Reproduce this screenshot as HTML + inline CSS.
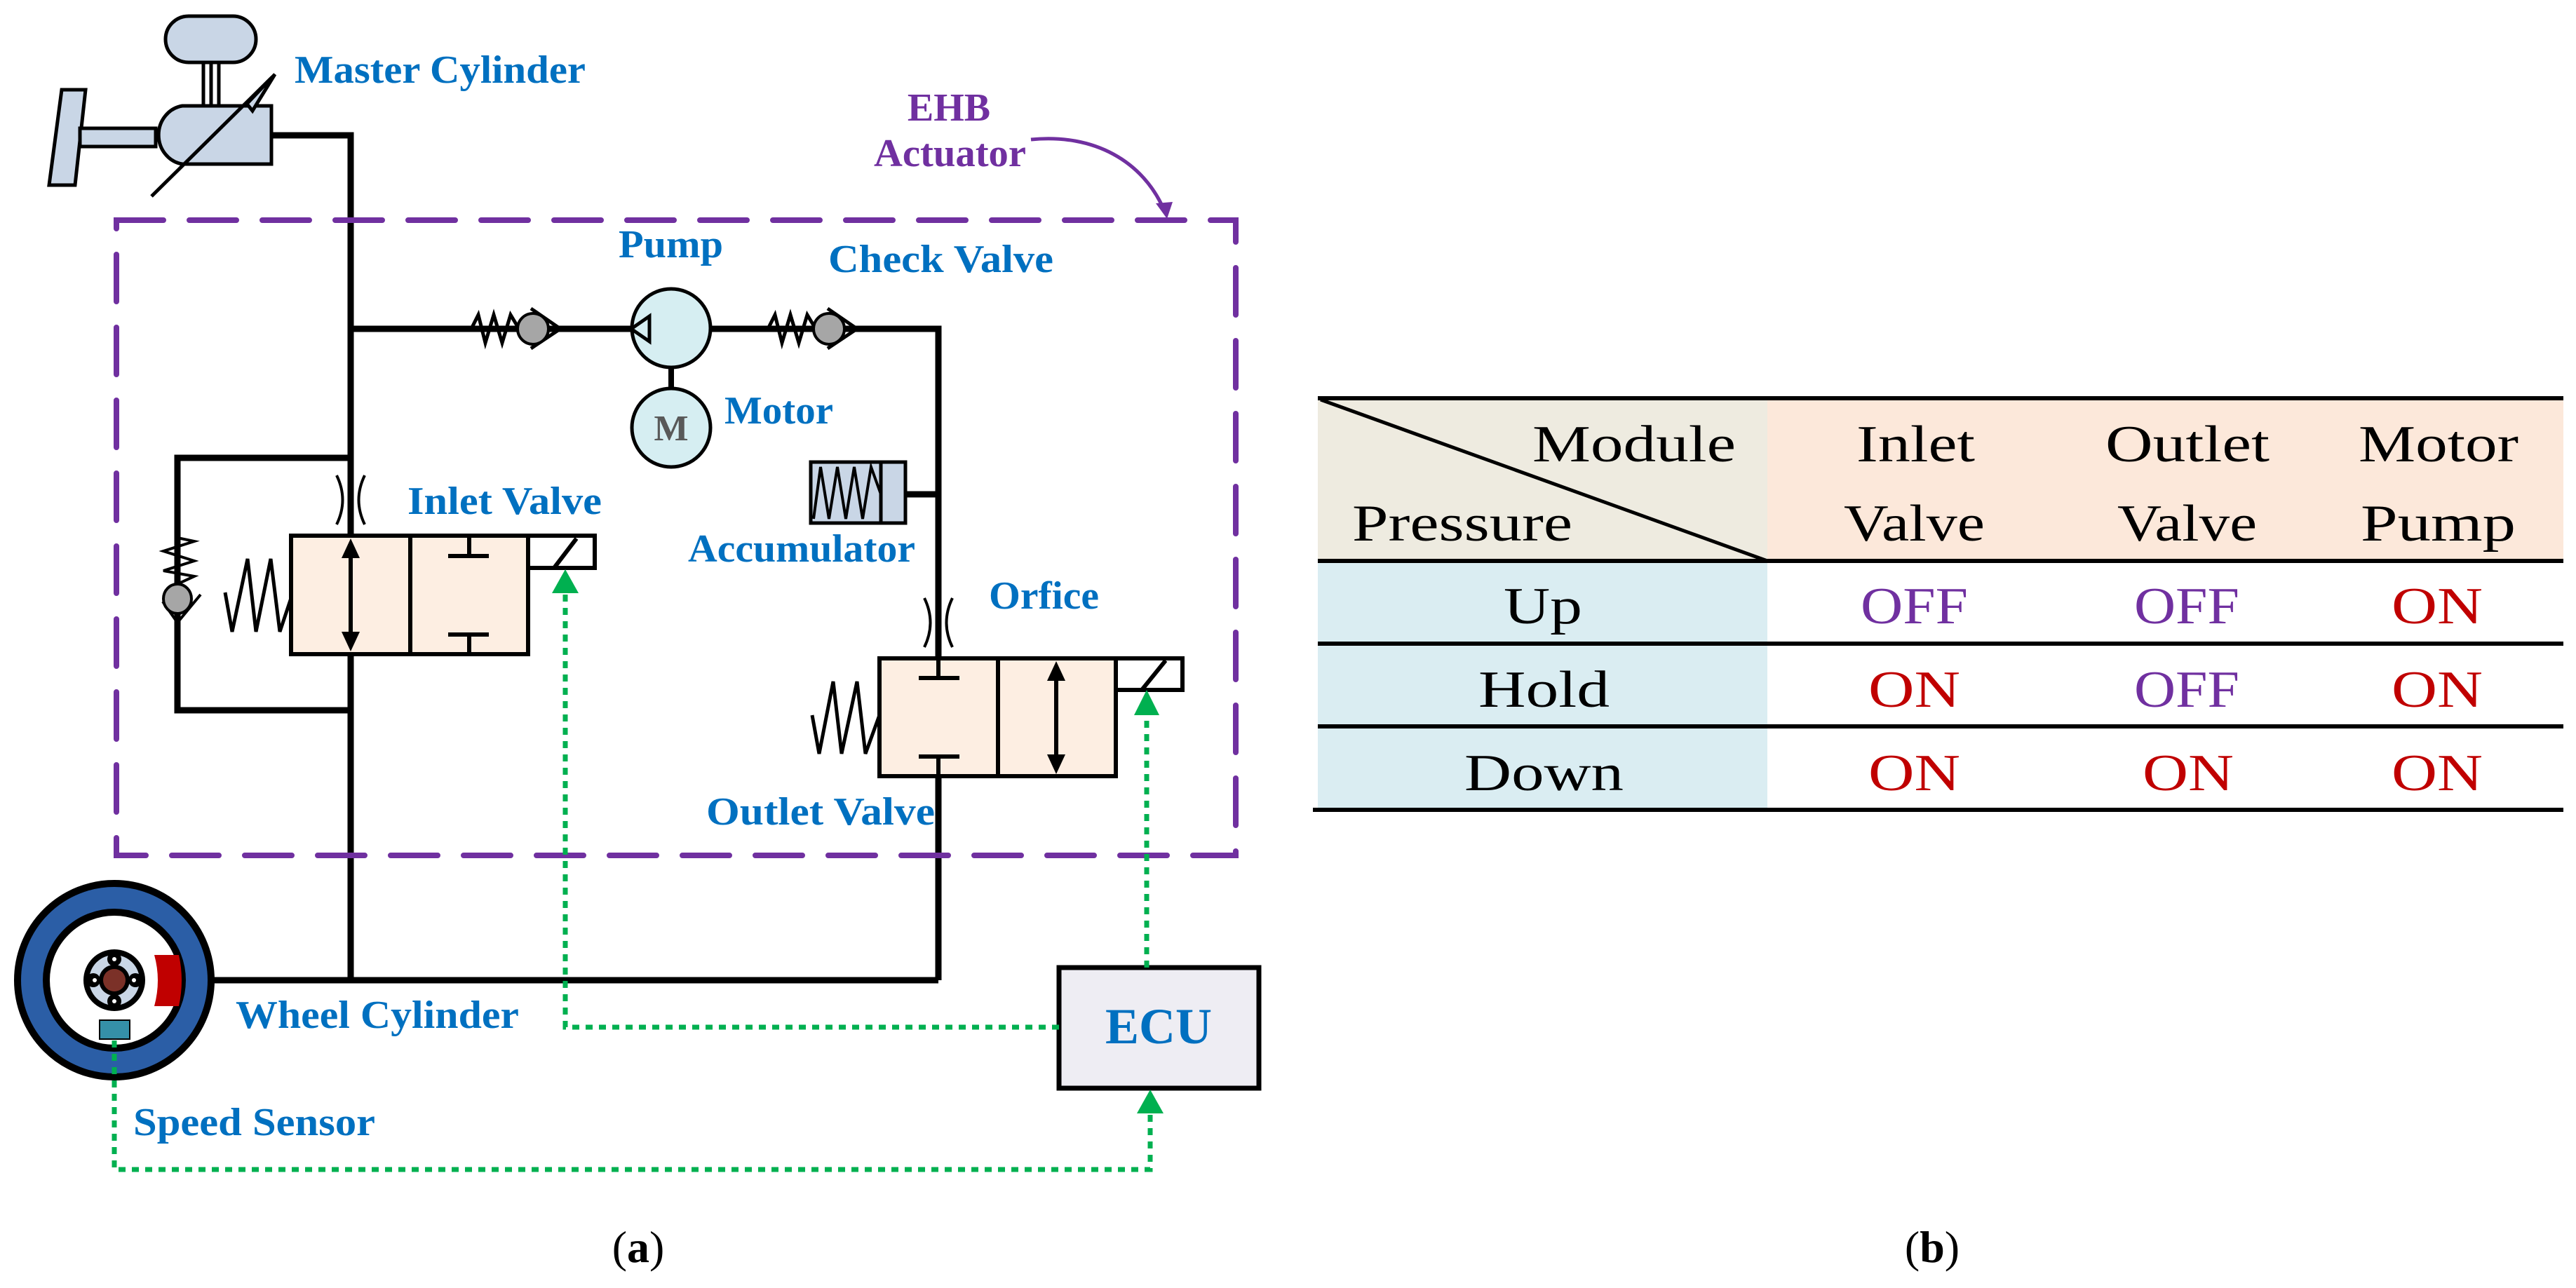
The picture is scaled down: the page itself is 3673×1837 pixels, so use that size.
<!DOCTYPE html>
<html><head><meta charset="utf-8"><style>html,body{margin:0;padding:0;background:#fff}svg{display:block}</style></head>
<body>
<svg width="3673" height="1837" viewBox="0 0 3673 1837" xmlns="http://www.w3.org/2000/svg">
<g fill="none" stroke="#000" stroke-width="9" stroke-linejoin="miter">
<polyline points="387,193 500,193 500,1398"/>
<polyline points="500,469 1338,469 1338,1398"/>
<line x1="258" y1="1398" x2="1338" y2="1398"/>
<polyline points="500,653 253,653 253,1013 500,1013"/>
<line x1="1291" y1="705" x2="1338" y2="705"/>
</g>
<rect x="166" y="314" width="1596" height="906" fill="none" stroke="#7030a0" stroke-width="8" stroke-dasharray="67,37" stroke-linecap="round"/>
<path d="M1470,199 C1560,190 1630,230 1660,300" fill="none" stroke="#7030a0" stroke-width="5"/>
<polygon points="1664,312 1648,290 1672,288" fill="#7030a0"/>

<g stroke="#000" stroke-width="5" fill="#c9d6e6">
<rect x="236" y="23" width="129" height="66" rx="33"/>
<line x1="290" y1="89" x2="290" y2="152"/><line x1="301" y1="89" x2="301" y2="152"/><line x1="312" y1="89" x2="312" y2="152"/>
<polygon points="88,128 122,128 107,264 70,264"/>
<rect x="114" y="183" width="108" height="26"/>
<path d="M260,151 H387 V234 H260 A40,42 0 0 1 260,151 Z"/>
<line x1="216" y1="280" x2="388" y2="110" fill="none"/>
<polygon points="392,106 360,158 352,148" fill="#c9d6e6"/>
</g>

<g stroke="#000" stroke-width="5" fill="none">
<polyline points="672,469 682,449 692,489 704,449 716,489 728,449 740,469"/>
<polyline points="757,440 799,469 757,497"/>
<polyline points="1095,469 1105,449 1115,489 1127,449 1139,489 1151,449 1163,469"/>
<polyline points="1180,440 1222,469 1180,497"/>
</g>
<circle cx="760" cy="469" r="22" fill="#a6a6a6" stroke="#000" stroke-width="4"/>
<circle cx="1182" cy="469" r="22" fill="#a6a6a6" stroke="#000" stroke-width="4"/>
<line x1="957" y1="524" x2="957" y2="556" stroke="#000" stroke-width="8"/>
<circle cx="957" cy="468" r="56" fill="#d6eef2" stroke="#000" stroke-width="5"/>
<polygon points="900,469 926,451 926,487" fill="#d6eef2" stroke="#000" stroke-width="5"/>
<circle cx="957" cy="610" r="56" fill="#d6eef2" stroke="#000" stroke-width="5"/>
<text x="957" y="628" text-anchor="middle" font-family="Liberation Serif, serif" font-weight="bold" font-size="52" fill="#595959">M</text>
<rect x="1156" y="659" width="135" height="87" fill="#c9d6e6" stroke="#000" stroke-width="5"/>
<line x1="1256" y1="659" x2="1256" y2="746" stroke="#000" stroke-width="5"/>
<polyline points="1160,740 1170,666 1182,740 1194,666 1206,740 1218,666 1230,740 1242,666 1256,705" fill="none" stroke="#000" stroke-width="4"/>

<g stroke="#000" stroke-width="6">
<rect x="415" y="764" width="338" height="169" fill="#fdeee2"/>
<line x1="585" y1="764" x2="585" y2="933"/>
<rect x="753" y="764" width="95" height="46" fill="#fff"/>
<line x1="790" y1="810" x2="822" y2="768"/>
<line x1="669" y1="764" x2="669" y2="793"/><line x1="639" y1="793" x2="697" y2="793"/>
<line x1="669" y1="933" x2="669" y2="905"/><line x1="639" y1="905" x2="697" y2="905"/>
<line x1="500" y1="790" x2="500" y2="908"/>
</g>
<polygon points="500,768 487,796 513,796" fill="#000"/>
<polygon points="500,929 487,901 513,901" fill="#000"/>
<path d="M480,678 Q497,713 480,748 M520,678 Q503,713 520,748" fill="none" stroke="#000" stroke-width="4"/>
<polyline points="321,845 331,901 353,797 365,901 386,797 399,901 415,853" fill="none" stroke="#000" stroke-width="5"/>
<polyline points="253,767 277,772 233,786 277,800 233,814 277,822 253,833" fill="none" stroke="#000" stroke-width="4"/>
<polyline points="232,858 253,888 286,848" fill="none" stroke="#000" stroke-width="4"/>
<ellipse cx="253" cy="854" rx="20" ry="21" fill="#a6a6a6" stroke="#000" stroke-width="4"/>

<g stroke="#000" stroke-width="6">
<rect x="1254" y="939" width="337" height="168" fill="#fdeee2"/>
<line x1="1423" y1="939" x2="1423" y2="1107"/>
<rect x="1591" y="939" width="95" height="45" fill="#fff"/>
<line x1="1628" y1="984" x2="1662" y2="942"/>
<line x1="1338" y1="939" x2="1338" y2="967"/><line x1="1310" y1="967" x2="1368" y2="967"/>
<line x1="1338" y1="1107" x2="1338" y2="1079"/><line x1="1310" y1="1079" x2="1368" y2="1079"/>
<line x1="1506" y1="965" x2="1506" y2="1082"/>
</g>
<polygon points="1506,943 1493,971 1519,971" fill="#000"/>
<polygon points="1506,1104 1493,1076 1519,1076" fill="#000"/>
<path d="M1318,853 Q1335,888 1318,923 M1358,853 Q1341,888 1358,923" fill="none" stroke="#000" stroke-width="4"/>
<polyline points="1158,1020 1168,1075 1188,972 1200,1075 1222,972 1234,1075 1254,1020" fill="none" stroke="#000" stroke-width="5"/>

<circle cx="163" cy="1398" r="138" fill="#2b5ea6" stroke="#000" stroke-width="10"/>
<circle cx="163" cy="1398" r="97" fill="#fff" stroke="#000" stroke-width="10"/>
<circle cx="163" cy="1398" r="44" fill="#000"/>
<circle cx="163" cy="1398" r="36" fill="#c9d6e6"/>
<circle cx="163" cy="1398" r="22" fill="#000"/>
<circle cx="163" cy="1398" r="16" fill="#7b3128"/>
<g fill="#000"><circle cx="163" cy="1368" r="10"/><circle cx="163" cy="1428" r="10"/><circle cx="133" cy="1398" r="10"/><circle cx="193" cy="1398" r="10"/></g>
<g fill="#fff"><circle cx="163" cy="1368" r="3"/><circle cx="163" cy="1428" r="3"/><circle cx="135" cy="1398" r="3"/><circle cx="191" cy="1398" r="3"/></g>
<path d="M220,1362 H255 Q263,1398 255,1435 H220 Q230,1398 220,1362 Z" fill="#c00000"/>
<rect x="142" y="1455" width="43" height="27" fill="#3590a8" stroke="#000" stroke-width="2"/>

<rect x="1510" y="1380" width="285" height="172" fill="#eeedf3" stroke="#000" stroke-width="7"/>
<text x="1652" y="1488" text-anchor="middle" font-family="Liberation Serif, serif" font-weight="bold" font-size="72" fill="#0070c0">ECU</text>

<g fill="none" stroke="#00b050" stroke-width="7" stroke-dasharray="10,9">
<polyline points="806,848 806,1465 1510,1465"/>
<line x1="1635" y1="1380" x2="1635" y2="1022"/>
<polyline points="163,1484 163,1668 1640,1668 1640,1590"/>
</g>
<polygon points="806,812 787,846 825,846" fill="#00b050"/>
<polygon points="1635,984 1617,1020 1653,1020" fill="#00b050"/>
<polygon points="1640,1554 1621,1588 1659,1588" fill="#00b050"/>

<g font-family="Liberation Serif, serif" font-weight="bold" font-size="56" fill="#0070c0">
<text x="420" y="118" textLength="415" lengthAdjust="spacingAndGlyphs">Master Cylinder</text>
<text x="882" y="367" textLength="149" lengthAdjust="spacingAndGlyphs">Pump</text>
<text x="1181" y="388" textLength="321" lengthAdjust="spacingAndGlyphs">Check Valve</text>
<text x="1033" y="604" textLength="155" lengthAdjust="spacingAndGlyphs">Motor</text>
<text x="581" y="733" textLength="277" lengthAdjust="spacingAndGlyphs">Inlet Valve</text>
<text x="981" y="801" textLength="324" lengthAdjust="spacingAndGlyphs">Accumulator</text>
<text x="1410" y="868" textLength="157" lengthAdjust="spacingAndGlyphs">Orfice</text>
<text x="1007" y="1176" textLength="326" lengthAdjust="spacingAndGlyphs">Outlet Valve</text>
<text x="336" y="1466" textLength="404" lengthAdjust="spacingAndGlyphs">Wheel Cylinder</text>
<text x="190" y="1619" textLength="345" lengthAdjust="spacingAndGlyphs">Speed Sensor</text>
</g>
<g font-family="Liberation Serif, serif" font-weight="bold" font-size="56" fill="#7030a0">
<text x="1353" y="172" text-anchor="middle">EHB</text>
<text x="1246" y="237" textLength="217" lengthAdjust="spacingAndGlyphs">Actuator</text>
</g>
<text x="910" y="1800" text-anchor="middle" font-family="Liberation Serif, serif" font-size="64" fill="#000">(<tspan font-weight="bold">a</tspan>)</text>
<text x="2755" y="1800" text-anchor="middle" font-family="Liberation Serif, serif" font-size="64" fill="#000">(<tspan font-weight="bold">b</tspan>)</text>

<rect x="1879" y="568" width="641" height="232" fill="#eeebe0"/>
<rect x="2520" y="568" width="1135" height="232" fill="#fce8da"/>
<rect x="1879" y="800" width="641" height="355" fill="#daedf2"/>
<line x1="1883" y1="570" x2="2520" y2="800" stroke="#000" stroke-width="5"/>
<g stroke="#000" stroke-width="6">
<line x1="1879" y1="568" x2="3655" y2="568"/>
<line x1="1879" y1="800" x2="3655" y2="800"/>
<line x1="1879" y1="918" x2="3655" y2="918"/>
<line x1="1879" y1="1036" x2="3655" y2="1036"/>
<line x1="1872" y1="1155" x2="3655" y2="1155"/>
</g>
<g font-family="Liberation Serif, serif" font-size="74" fill="#000">
<text x="2185" y="658" textLength="290" lengthAdjust="spacingAndGlyphs">Module</text>
<text x="1928" y="771" textLength="314" lengthAdjust="spacingAndGlyphs">Pressure</text>
<text x="2647" y="658" textLength="169" lengthAdjust="spacingAndGlyphs">Inlet</text>
<text x="2629" y="771" textLength="201" lengthAdjust="spacingAndGlyphs">Valve</text>
<text x="3002" y="658" textLength="234" lengthAdjust="spacingAndGlyphs">Outlet</text>
<text x="3019" y="771" textLength="199" lengthAdjust="spacingAndGlyphs">Valve</text>
<text x="3363" y="658" textLength="228" lengthAdjust="spacingAndGlyphs">Motor</text>
<text x="3366" y="771" textLength="221" lengthAdjust="spacingAndGlyphs">Pump</text>
<text x="2144" y="889" textLength="112" lengthAdjust="spacingAndGlyphs">Up</text>
<text x="2108" y="1008" textLength="187" lengthAdjust="spacingAndGlyphs">Hold</text>
<text x="2088" y="1127" textLength="227" lengthAdjust="spacingAndGlyphs">Down</text>
<text x="2653" y="889" textLength="153" lengthAdjust="spacingAndGlyphs" fill="#7030a0">OFF</text>
<text x="3043" y="889" textLength="150" lengthAdjust="spacingAndGlyphs" fill="#7030a0">OFF</text>
<text x="3410" y="889" textLength="130" lengthAdjust="spacingAndGlyphs" fill="#c00000">ON</text>
<text x="2664" y="1008" textLength="131" lengthAdjust="spacingAndGlyphs" fill="#c00000">ON</text>
<text x="3043" y="1008" textLength="150" lengthAdjust="spacingAndGlyphs" fill="#7030a0">OFF</text>
<text x="3410" y="1008" textLength="130" lengthAdjust="spacingAndGlyphs" fill="#c00000">ON</text>
<text x="2664" y="1127" textLength="131" lengthAdjust="spacingAndGlyphs" fill="#c00000">ON</text>
<text x="3055" y="1127" textLength="130" lengthAdjust="spacingAndGlyphs" fill="#c00000">ON</text>
<text x="3410" y="1127" textLength="130" lengthAdjust="spacingAndGlyphs" fill="#c00000">ON</text>
</g>
</svg>
</body></html>
